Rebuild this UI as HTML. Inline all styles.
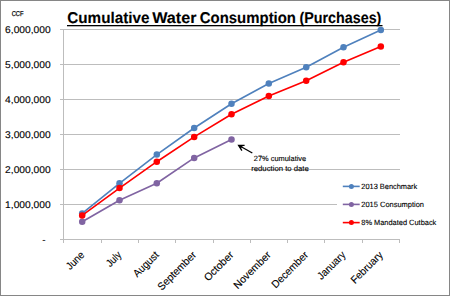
<!DOCTYPE html><html><head><meta charset="utf-8"><style>html,body{margin:0;padding:0;background:#fff;}svg{display:block;text-rendering:geometricPrecision;}</style></head><body>
<svg width="450" height="296" viewBox="0 0 450 296">
<rect x="0" y="0" width="450" height="296" fill="#fff"/>
<rect x="0.5" y="0.5" width="449" height="295" fill="none" stroke="#868686" stroke-width="1"/>
<line x1="60" y1="29.5" x2="400" y2="29.5" stroke="#bdbdbd" stroke-width="1"/>
<line x1="60" y1="64.5" x2="400" y2="64.5" stroke="#bdbdbd" stroke-width="1"/>
<line x1="60" y1="99.5" x2="400" y2="99.5" stroke="#bdbdbd" stroke-width="1"/>
<line x1="60" y1="134.5" x2="400" y2="134.5" stroke="#bdbdbd" stroke-width="1"/>
<line x1="60" y1="169.5" x2="400" y2="169.5" stroke="#bdbdbd" stroke-width="1"/>
<line x1="60" y1="204.5" x2="400" y2="204.5" stroke="#bdbdbd" stroke-width="1"/>
<line x1="60" y1="239.5" x2="400" y2="239.5" stroke="#bdbdbd" stroke-width="1"/>
<line x1="63.5" y1="29" x2="63.5" y2="243" stroke="#bdbdbd" stroke-width="1"/>
<line x1="101.5" y1="239" x2="101.5" y2="243" stroke="#bdbdbd" stroke-width="1"/>
<line x1="138.5" y1="239" x2="138.5" y2="243" stroke="#bdbdbd" stroke-width="1"/>
<line x1="175.5" y1="239" x2="175.5" y2="243" stroke="#bdbdbd" stroke-width="1"/>
<line x1="213.5" y1="239" x2="213.5" y2="243" stroke="#bdbdbd" stroke-width="1"/>
<line x1="250.5" y1="239" x2="250.5" y2="243" stroke="#bdbdbd" stroke-width="1"/>
<line x1="287.5" y1="239" x2="287.5" y2="243" stroke="#bdbdbd" stroke-width="1"/>
<line x1="324.5" y1="239" x2="324.5" y2="243" stroke="#bdbdbd" stroke-width="1"/>
<line x1="362.5" y1="239" x2="362.5" y2="243" stroke="#bdbdbd" stroke-width="1"/>
<line x1="399.5" y1="239" x2="399.5" y2="243" stroke="#bdbdbd" stroke-width="1"/>
<text x="50.7" y="33.0" font-family="Liberation Sans, sans-serif" stroke="#000" stroke-width="0.12" font-size="9.8" text-anchor="end" fill="#000" textLength="45.6" lengthAdjust="spacingAndGlyphs">6,000,000</text>
<text x="50.7" y="68.0" font-family="Liberation Sans, sans-serif" stroke="#000" stroke-width="0.12" font-size="9.8" text-anchor="end" fill="#000" textLength="45.6" lengthAdjust="spacingAndGlyphs">5,000,000</text>
<text x="50.7" y="103.0" font-family="Liberation Sans, sans-serif" stroke="#000" stroke-width="0.12" font-size="9.8" text-anchor="end" fill="#000" textLength="45.6" lengthAdjust="spacingAndGlyphs">4,000,000</text>
<text x="50.7" y="138.0" font-family="Liberation Sans, sans-serif" stroke="#000" stroke-width="0.12" font-size="9.8" text-anchor="end" fill="#000" textLength="45.6" lengthAdjust="spacingAndGlyphs">3,000,000</text>
<text x="50.7" y="173.0" font-family="Liberation Sans, sans-serif" stroke="#000" stroke-width="0.12" font-size="9.8" text-anchor="end" fill="#000" textLength="45.6" lengthAdjust="spacingAndGlyphs">2,000,000</text>
<text x="50.7" y="208.0" font-family="Liberation Sans, sans-serif" stroke="#000" stroke-width="0.12" font-size="9.8" text-anchor="end" fill="#000" textLength="45.6" lengthAdjust="spacingAndGlyphs">1,000,000</text>
<text x="45.7" y="242.5" font-family="Liberation Sans, sans-serif" stroke="#000" stroke-width="0.12" font-size="10" text-anchor="end" fill="#000">-</text>
<text x="11.7" y="16.1" font-family="Liberation Sans, sans-serif" stroke="#000" stroke-width="0.25" font-size="7.1" fill="#000" textLength="11.9" lengthAdjust="spacingAndGlyphs">CCF</text>
<text x="67.3" y="23.25" font-family="Liberation Sans, sans-serif" stroke="#000" stroke-width="0.12" font-size="15.6" font-weight="bold" fill="#000" textLength="82.2" lengthAdjust="spacingAndGlyphs">Cumulative</text>
<text x="152.20000000000002" y="23.25" font-family="Liberation Sans, sans-serif" stroke="#000" stroke-width="0.12" font-size="15.6" font-weight="bold" fill="#000" textLength="44.3" lengthAdjust="spacingAndGlyphs">Water</text>
<text x="199.8" y="23.25" font-family="Liberation Sans, sans-serif" stroke="#000" stroke-width="0.12" font-size="15.6" font-weight="bold" fill="#000" textLength="96.2" lengthAdjust="spacingAndGlyphs">Consumption</text>
<text x="299.5" y="23.25" font-family="Liberation Sans, sans-serif" stroke="#000" stroke-width="0.12" font-size="15.6" font-weight="bold" fill="#000" textLength="81.9" lengthAdjust="spacingAndGlyphs">(Purchases)</text>
<rect x="67" y="25" width="315.5" height="1.3" fill="#000"/>
<polyline points="82.2,213.4 119.5,183.3 156.8,154.6 194.2,128 231.5,103.7 268.8,83.5 306.2,67.2 343.5,47.2 380.8,29.9" fill="none" stroke="#4f81bd" stroke-width="1.65" stroke-linejoin="round"/>
<circle cx="82.2" cy="213.4" r="3.25" fill="#4f81bd"/>
<circle cx="119.5" cy="183.3" r="3.25" fill="#4f81bd"/>
<circle cx="156.8" cy="154.6" r="3.25" fill="#4f81bd"/>
<circle cx="194.2" cy="128" r="3.25" fill="#4f81bd"/>
<circle cx="231.5" cy="103.7" r="3.25" fill="#4f81bd"/>
<circle cx="268.8" cy="83.5" r="3.25" fill="#4f81bd"/>
<circle cx="306.2" cy="67.2" r="3.25" fill="#4f81bd"/>
<circle cx="343.5" cy="47.2" r="3.25" fill="#4f81bd"/>
<circle cx="380.8" cy="29.9" r="3.25" fill="#4f81bd"/>
<polyline points="82.2,221.8 119.5,200.3 156.8,183.3 194.2,157.9 231.5,139.5" fill="none" stroke="#8064a2" stroke-width="1.65" stroke-linejoin="round"/>
<circle cx="82.2" cy="221.8" r="3.25" fill="#8064a2"/>
<circle cx="119.5" cy="200.3" r="3.25" fill="#8064a2"/>
<circle cx="156.8" cy="183.3" r="3.25" fill="#8064a2"/>
<circle cx="194.2" cy="157.9" r="3.25" fill="#8064a2"/>
<circle cx="231.5" cy="139.5" r="3.25" fill="#8064a2"/>
<polyline points="82.2,215.4 119.5,188.1 156.8,161.7 194.2,136.9 231.5,114.2 268.8,96 306.2,80.7 343.5,62.3 380.8,46.4" fill="none" stroke="#ff0000" stroke-width="1.65" stroke-linejoin="round"/>
<circle cx="82.2" cy="215.4" r="3.25" fill="#ff0000"/>
<circle cx="119.5" cy="188.1" r="3.25" fill="#ff0000"/>
<circle cx="156.8" cy="161.7" r="3.25" fill="#ff0000"/>
<circle cx="194.2" cy="136.9" r="3.25" fill="#ff0000"/>
<circle cx="231.5" cy="114.2" r="3.25" fill="#ff0000"/>
<circle cx="268.8" cy="96" r="3.25" fill="#ff0000"/>
<circle cx="306.2" cy="80.7" r="3.25" fill="#ff0000"/>
<circle cx="343.5" cy="62.3" r="3.25" fill="#ff0000"/>
<circle cx="380.8" cy="46.4" r="3.25" fill="#ff0000"/>
<line x1="252.3" y1="153" x2="239" y2="145.5" stroke="#000" stroke-width="1.3"/>
<polyline points="244.6,145.4 238.6,145.3 241.9,150.6" fill="none" stroke="#000" stroke-width="1.3"/>
<polygon points="238.6,145.3 243,145.4 240.6,149" fill="#000"/>
<text x="280" y="161" font-family="Liberation Sans, sans-serif" stroke="#000" stroke-width="0.12" font-size="7.5" text-anchor="middle" fill="#000" textLength="52.4" lengthAdjust="spacingAndGlyphs">27% cumulative</text>
<text x="280" y="170.5" font-family="Liberation Sans, sans-serif" stroke="#000" stroke-width="0.12" font-size="7.5" text-anchor="middle" fill="#000" textLength="57.6" lengthAdjust="spacingAndGlyphs">reduction to date</text>
<text x="0" y="0" font-family="Liberation Sans, sans-serif" stroke="#000" stroke-width="0.12" font-size="10.6" text-anchor="end" fill="#000" textLength="20.76" lengthAdjust="spacingAndGlyphs" transform="translate(82.8,253.5) rotate(-45) translate(0,3)">June</text>
<text x="0" y="0" font-family="Liberation Sans, sans-serif" stroke="#000" stroke-width="0.12" font-size="10.6" text-anchor="end" fill="#000" textLength="16.97" lengthAdjust="spacingAndGlyphs" transform="translate(120.1,253.5) rotate(-45) translate(0,3)">July</text>
<text x="0" y="0" font-family="Liberation Sans, sans-serif" stroke="#000" stroke-width="0.12" font-size="10.6" text-anchor="end" fill="#000" textLength="31.42" lengthAdjust="spacingAndGlyphs" transform="translate(157.4,253.5) rotate(-45) translate(0,3)">August</text>
<text x="0" y="0" font-family="Liberation Sans, sans-serif" stroke="#000" stroke-width="0.12" font-size="10.6" text-anchor="end" fill="#000" textLength="49.88" lengthAdjust="spacingAndGlyphs" transform="translate(194.8,253.5) rotate(-45) translate(0,3)">September</text>
<text x="0" y="0" font-family="Liberation Sans, sans-serif" stroke="#000" stroke-width="0.12" font-size="10.6" text-anchor="end" fill="#000" textLength="36.9" lengthAdjust="spacingAndGlyphs" transform="translate(232.1,253.5) rotate(-45) translate(0,3)">October</text>
<text x="0" y="0" font-family="Liberation Sans, sans-serif" stroke="#000" stroke-width="0.12" font-size="10.6" text-anchor="end" fill="#000" textLength="47.75" lengthAdjust="spacingAndGlyphs" transform="translate(269.4,253.5) rotate(-45) translate(0,3)">November</text>
<text x="0" y="0" font-family="Liberation Sans, sans-serif" stroke="#000" stroke-width="0.12" font-size="10.6" text-anchor="end" fill="#000" textLength="46.76" lengthAdjust="spacingAndGlyphs" transform="translate(306.8,253.5) rotate(-45) translate(0,3)">December</text>
<text x="0" y="0" font-family="Liberation Sans, sans-serif" stroke="#000" stroke-width="0.12" font-size="10.6" text-anchor="end" fill="#000" textLength="34.8" lengthAdjust="spacingAndGlyphs" transform="translate(344.1,253.5) rotate(-45) translate(0,3)">January</text>
<text x="0" y="0" font-family="Liberation Sans, sans-serif" stroke="#000" stroke-width="0.12" font-size="10.6" text-anchor="end" fill="#000" textLength="40.44" lengthAdjust="spacingAndGlyphs" transform="translate(381.4,253.5) rotate(-45) translate(0,3)">February</text>
<rect x="337" y="176" width="103" height="56" fill="#fff"/>
<line x1="342.8" y1="186.4" x2="359.7" y2="186.4" stroke="#4f81bd" stroke-width="1.6"/>
<circle cx="351.4" cy="186.4" r="2.5" fill="#4f81bd"/>
<text x="361.3" y="189.0" font-family="Liberation Sans, sans-serif" stroke="#000" stroke-width="0.12" font-size="7.6" fill="#000" textLength="56" lengthAdjust="spacingAndGlyphs">2013 Benchmark</text>
<line x1="342.8" y1="204.4" x2="359.7" y2="204.4" stroke="#8064a2" stroke-width="1.6"/>
<circle cx="351.4" cy="204.4" r="2.5" fill="#8064a2"/>
<text x="361.3" y="207.0" font-family="Liberation Sans, sans-serif" stroke="#000" stroke-width="0.12" font-size="7.6" fill="#000" textLength="62.7" lengthAdjust="spacingAndGlyphs">2015 Consumption</text>
<line x1="342.8" y1="222.6" x2="359.7" y2="222.6" stroke="#ff0000" stroke-width="1.6"/>
<circle cx="351.4" cy="222.6" r="2.5" fill="#ff0000"/>
<text x="361.3" y="225.2" font-family="Liberation Sans, sans-serif" stroke="#000" stroke-width="0.12" font-size="7.6" fill="#000" textLength="75" lengthAdjust="spacingAndGlyphs">8% Mandated Cutback</text>
</svg></body></html>
